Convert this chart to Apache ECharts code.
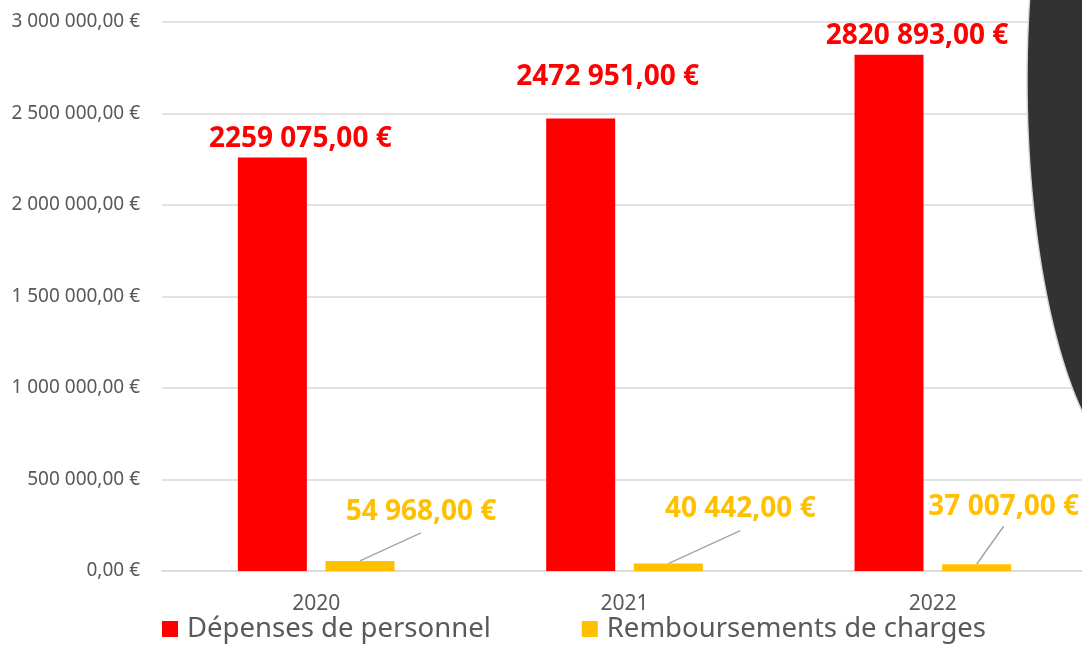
<!DOCTYPE html>
<html lang="fr">
<head>
<meta charset="utf-8">
<title>Dépenses de personnel et remboursements de charges</title>
<script src="https://cdn.jsdelivr.net/npm/echarts@6/dist/echarts.min.js"></script>
<style>
  html, body { margin: 0; padding: 0; background: #ffffff; }
  #chart { width: 1082px; height: 645px; }
</style>
</head>
<body>
<div id="chart"></div>
<script>
// Years on the category axis
const years = ['2020', '2021', '2022'];
// Staff costs (€)
const depensesPersonnel = [2259075, 2472951, 2820893];
// Charge reimbursements (€)
const remboursementsCharges = [54968, 40442, 37007];
// Value axis ticks (€)
const yTicks = [0, 500000, 1000000, 1500000, 2000000, 2500000, 3000000];

const FONT = '"Noto Sans", "Open Sans", sans-serif';
const TEXT_GREY = '#595959';
const BAR_WIDTH = 69;
const BAR_GAP = 0.27;

// "3 000 000,00 €" style for the value axis
function fmtAxis(v) {
  const s = Math.round(v).toString().replace(/\B(?=(\d{3})+(?!\d))/g, ' ');
  return s + ',00 €';
}
// "2259 075,00 €" style for the bar labels (only the last group separated)
function fmtLabel(v) {
  const s = Math.round(v).toString();
  const head = s.length > 3 ? s.slice(0, -3) + ' ' + s.slice(-3) : s;
  return head + ',00 €';
}

// label shifts relative to the default 'top' placement
const redShift = [[28, 0], [27, -22], [28, 0]];
const yellowShift = [[61, -30], [72, -36], [27, -38]];
// leader line ends, relative to the top centre of each yellow bar
const leaderEnd = [[61, -28], [72, -33], [27, -38]];

// decorative dark ellipse on the right edge
function ellipsePoints(cx, cy, a, b, n) {
  const pts = [];
  for (let i = 0; i < n; i++) {
    const t = (i / n) * Math.PI * 2;
    pts.push([cx + a * Math.cos(t), cy + b * Math.sin(t)]);
  }
  return pts;
}

const chart = echarts.init(document.getElementById('chart'), null, { renderer: 'canvas' });

chart.setOption({
  animation: false,
  backgroundColor: '#ffffff',
  grid: {
    left: 162, width: 925, top: 22, height: 549,
    containLabel: false,
    outerBoundsMode: 'none'
  },
  legend: {
    left: 162,
    top: 615,
    padding: 0,
    itemWidth: 16,
    itemHeight: 16,
    itemGap: 91,
    icon: 'rect',
    textStyle: { fontFamily: FONT, fontSize: 27.5, color: TEXT_GREY, padding: [0, 0, 0, 4] },
    data: ['Dépenses de personnel', 'Remboursements de charges']
  },
  xAxis: {
    type: 'category',
    data: years,
    axisLine: { show: true, lineStyle: { color: '#d9d9d9', width: 1.5 } },
    axisTick: { show: false },
    axisLabel: { fontFamily: FONT, fontSize: 21, color: TEXT_GREY, margin: 23 }
  },
  yAxis: {
    type: 'value',
    min: yTicks[0],
    max: yTicks[yTicks.length - 1],
    interval: yTicks[1] - yTicks[0],
    axisLine: { show: false },
    axisTick: { show: false },
    splitLine: { lineStyle: { color: '#d9d9d9', width: 1.5 } },
    axisLabel: { fontFamily: FONT, fontSize: 19, color: TEXT_GREY, margin: 22, formatter: fmtAxis }
  },
  series: [
    {
      name: 'Dépenses de personnel',
      type: 'bar',
      data: depensesPersonnel,
      barWidth: BAR_WIDTH,
      barGap: (BAR_GAP * 100) + '%',
      itemStyle: { color: '#FF0000' },
      label: {
        show: true,
        position: 'top',
        distance: 5,
        formatter: p => fmtLabel(p.value),
        fontFamily: FONT,
        fontSize: 28,
        fontWeight: 'bold',
        color: '#FF0000'
      },
      labelLayout: p => ({ dx: redShift[p.dataIndex][0], dy: redShift[p.dataIndex][1] })
    },
    {
      name: 'Remboursements de charges',
      type: 'bar',
      data: remboursementsCharges,
      barWidth: BAR_WIDTH,
      itemStyle: { color: '#FFC000' },
      label: {
        show: true,
        position: 'top',
        distance: 5,
        formatter: p => fmtLabel(p.value),
        fontFamily: FONT,
        fontSize: 28,
        fontWeight: 'bold',
        color: '#FFC000'
      },
      labelLayout: p => ({ dx: yellowShift[p.dataIndex][0], dy: yellowShift[p.dataIndex][1] })
    },
    {
      // leader lines from each reimbursement bar to its label
      type: 'custom',
      silent: true,
      data: remboursementsCharges.map((v, i) => [i, v]),
      renderItem: (params, api) => {
        const i = api.value(0);
        const top = api.coord([i, api.value(1)]);
        const x = top[0] + BAR_WIDTH * (1 + BAR_GAP) / 2;
        const y = top[1];
        return {
          type: 'line',
          shape: { x1: x, y1: y, x2: x + leaderEnd[i][0], y2: y + leaderEnd[i][1] },
          style: { stroke: '#a6a6a6', lineWidth: 1.5 }
        };
      }
    }
  ],
  graphic: [
    {
      type: 'polygon',
      z: 100,
      silent: true,
      shape: { points: ellipsePoints(1152, 80, 125, 400, 180) },
      style: { fill: '#323232', stroke: '#d6d6d6', lineWidth: 1.5 }
    }
  ]
});
</script>
</body>
</html>
